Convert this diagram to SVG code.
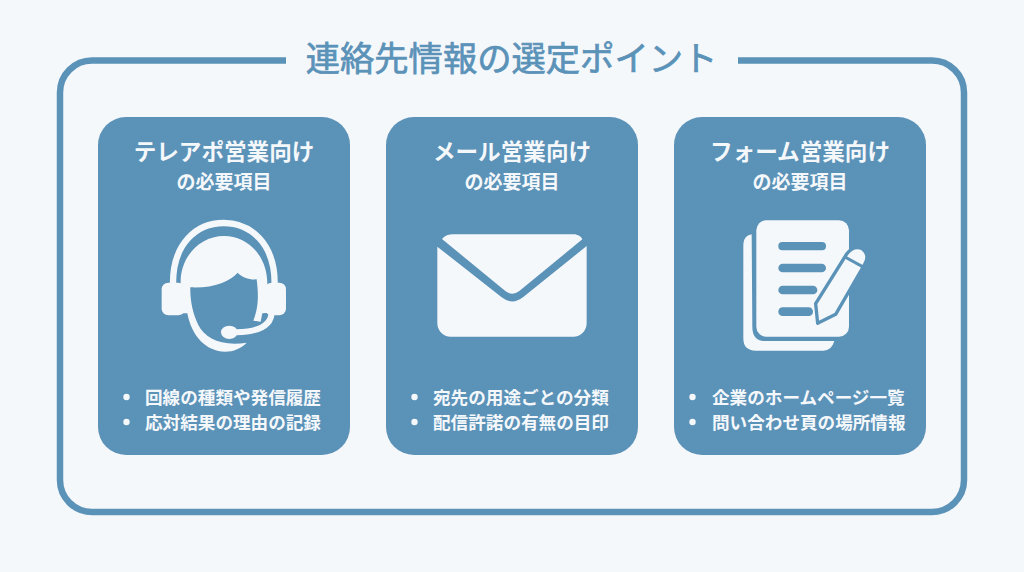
<svg xmlns="http://www.w3.org/2000/svg" width="1024" height="572" viewBox="0 0 1024 572">
<style>
text{font-family:"Noto Sans CJK JP","Noto Sans",sans-serif;font-weight:700;fill:#f5f8fb}
.panel{fill:#5b92b8}
.ttl{font-size:22.600px;text-anchor:middle}
.sub{font-size:19px;text-anchor:middle}
.item{font-size:17.600px}
.ic{fill:#f5f8fb}
.ln{fill:none;stroke:#5b92b8}
.pen{fill:#f5f8fb;stroke:#5b92b8}
</style>
<rect width="1024" height="572" fill="#f5f8fb"/>
<g id="frame">
<path d="M286 60.500H92A32 32 0 0 0 60 92.500V480A32 32 0 0 0 92 512H932A32 32 0 0 0 964 480V92.500A32 32 0 0 0 932 60.500H738" fill="none" stroke="#5b92b8" stroke-width="6.500"/>
<text x="511.500" y="71" text-anchor="middle" font-size="34.300" style="fill:#5b92b8;font-weight:400;stroke:#5b92b8;stroke-width:.7px">連絡先情報の選定ポイント</text>
</g>
<g id="card-tel">
<rect class="panel" x="98" y="117" width="252" height="338" rx="28"/>
<text class="ttl" x="224" y="159.500">テレアポ営業向け</text>
<text class="sub" x="224" y="189">の必要項目</text>
<g transform="translate(130 200) scale(.3333)">
<path d="M129 250C129 130 200 69 281 69C362 69 434 130 434 250" fill="none" stroke="#f5f8fb" stroke-width="19"/>
<rect class="ic" x="95" y="248" width="70" height="98" rx="20"/>
<rect class="ic" x="405" y="248" width="63" height="98" rx="20"/>
<path class="ic" d="M152 250C150 170 210 108 282 108C355 108 412 170 412 250L416 338L397 340L392 365L370 362C382 330 388 300 380 238C360 240 335 232 323 218C300 245 250 265 181 262C180 300 188 340 205 375C225 415 275 440 350 428C335 445 310 455 285 455C230 455 185 410 172 340L152 340Z"/>
<path d="M425 335C425 375 390 395 320 397" fill="none" stroke="#f5f8fb" stroke-width="18"/>
<ellipse class="ic" cx="298" cy="397" rx="25" ry="20"/>
</g>
<circle class="ic" cx="126.500" cy="397" r="3.200"/>
<circle class="ic" cx="126.500" cy="422" r="3.200"/>
<text class="item" x="145" y="403.500">回線の種類や発信履歴</text>
<text class="item" x="145" y="428.500">応対結果の理由の記録</text>
</g>
<g id="card-mail">
<rect class="panel" x="386" y="117" width="252" height="338" rx="28"/>
<text class="ttl" x="512" y="159.500">メール営業向け</text>
<text class="sub" x="512" y="189">の必要項目</text>
<g transform="translate(420 215) scale(.3333)">
<path class="ic" d="M66 72C75 62 85 58 100 58H460C475 58 483 65 487 73L298 228Q277 244 256 228Z"/>
<path class="ic" d="M52 95L245 247Q277 272 309 247L500 93V325A40 40 0 0 1 460 365H92A40 40 0 0 1 52 325Z"/>
</g>
<circle class="ic" cx="414.500" cy="397" r="3.200"/>
<circle class="ic" cx="414.500" cy="422" r="3.200"/>
<text class="item" x="433" y="403.500">宛先の用途ごとの分類</text>
<text class="item" x="433" y="428.500">配信許諾の有無の目印</text>
</g>
<g id="card-form">
<rect class="panel" x="674" y="117" width="252" height="338" rx="28"/>
<text class="ttl" x="800" y="159.500">フォーム営業向け</text>
<text class="sub" x="800" y="189">の必要項目</text>
<g transform="translate(725 205) scale(.3333)">
<path class="ic" d="M80 88C60 92 55 105 55 125V400Q55 437 92 437H295Q320 437 328 408H120Q82 408 82 365Z"/>
<rect class="ic" x="94" y="46" width="278" height="349" rx="30"/>
<g fill="#5b92b8">
<rect x="160" y="111" width="143" height="25" rx="12"/>
<rect x="160" y="176" width="143" height="26" rx="13"/>
<rect x="160" y="242" width="117" height="26" rx="13"/>
<rect x="160" y="307" width="104" height="26" rx="13"/>
</g>
<path class="pen" stroke-width="10" stroke-linejoin="round" d="M272 296L365 147Q385 120 412 131Q436 150 419 178L332 328L278 355Z"/>
<path class="ln" stroke-width="9" d="M360 156L418 188"/>
</g>
<circle class="ic" cx="692.500" cy="397" r="3.200"/>
<circle class="ic" cx="692.500" cy="422" r="3.200"/>
<text class="item" x="712" y="403.500">企業のホームページ一覧</text>
<text class="item" x="712" y="428.500">問い合わせ頁の場所情報</text>
</g>
</svg>
